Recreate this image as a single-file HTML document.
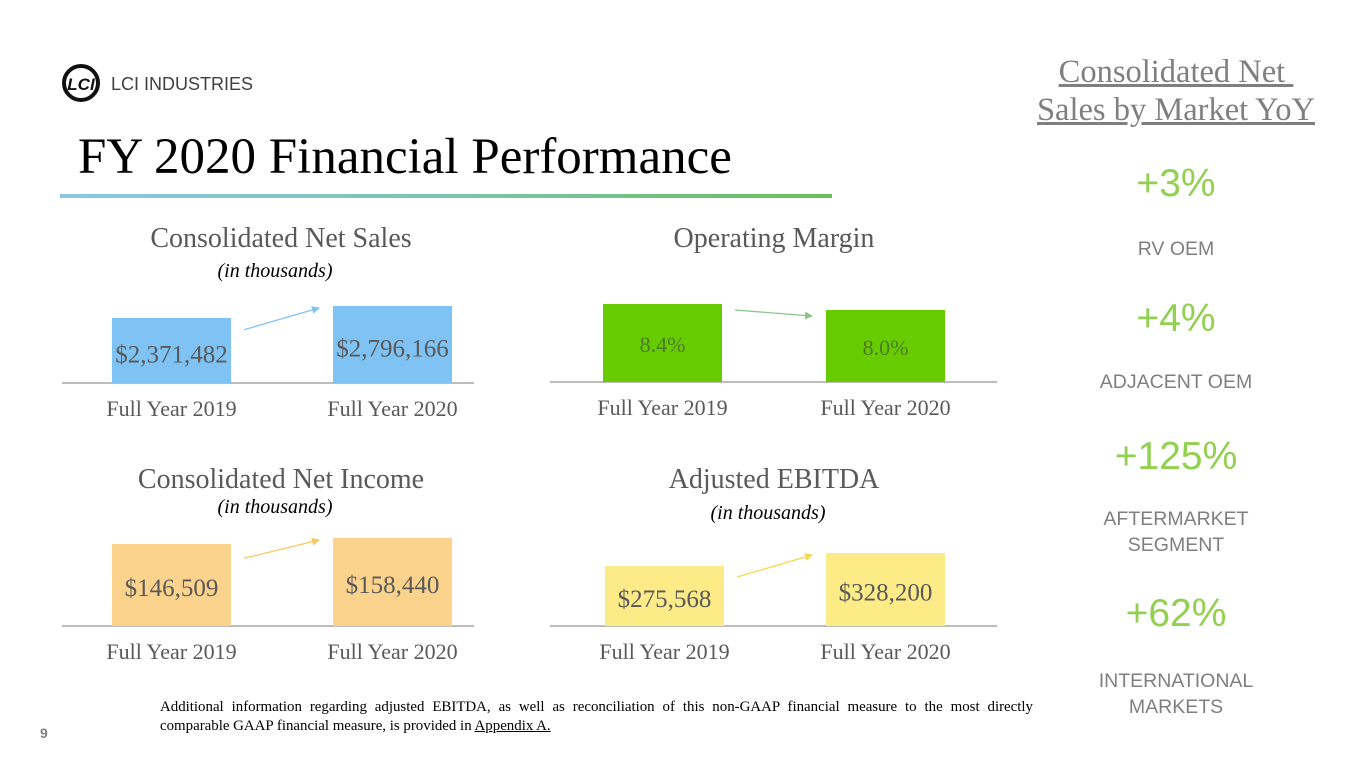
<!DOCTYPE html>
<html><head><meta charset="utf-8"><style>
body{margin:0;width:1365px;height:768px;background:#fff;position:relative;overflow:hidden;font-family:"Liberation Serif",serif}
.a{position:absolute}
.sans{font-family:"Liberation Sans",sans-serif}
.ct{position:absolute;font-size:28px;color:#595959;text-align:center;width:440px}
.sub{position:absolute;font-size:20px;font-style:italic;color:#000;text-align:center;width:300px}
.pct{position:absolute;width:300px;left:1026px;text-align:center;color:#92D050;font-size:39px;font-family:"Liberation Sans",sans-serif}
.lbl{position:absolute;width:300px;left:1026px;text-align:center;color:#7f7f7f;font-size:19.5px;font-family:"Liberation Sans",sans-serif;line-height:26px}
</style></head><body>
<svg class="a" style="left:60px;top:62px" width="42" height="42"><circle cx="21" cy="21" r="17" fill="none" stroke="#111" stroke-width="4"/><text x="21" y="28" text-anchor="middle" font-family="Liberation Sans" font-weight="bold" font-style="italic" font-size="17" fill="#111">LCI</text></svg>
<div class="a sans" style="left:111px;top:74px;font-size:18px;color:#404040">LCI INDUSTRIES</div>
<div class="a" style="left:78px;top:128px;font-size:51px;color:#000">FY 2020 Financial Performance</div>
<div class="a" style="left:60px;top:194px;width:772px;height:4px;background:linear-gradient(90deg,#8cc6e6,#7fc3b0,#6dbd5a)"></div>

<div class="ct" style="left:61px;top:223px">Consolidated Net Sales</div>
<div class="sub" style="left:125px;top:260px">(in thousands)</div>
<div class="ct" style="left:554px;top:223px">Operating Margin</div>
<div class="ct" style="left:61px;top:464px">Consolidated Net Income</div>
<div class="sub" style="left:125px;top:496px">(in thousands)</div>
<div class="ct" style="left:554px;top:464px">Adjusted EBITDA</div>
<div class="sub" style="left:618px;top:502px">(in thousands)</div>

<svg id="charts" class="a" style="left:0;top:0" width="1000" height="680"></svg>

<div class="a" style="left:996px;top:53px;width:360px;text-align:center;font-size:32.5px;color:#7f7f7f;text-decoration:underline;line-height:38px;white-space:pre">Consolidated Net 
Sales by Market YoY</div>
<div class="pct" style="top:162px">+3%</div>
<div class="lbl" style="top:236px">RV OEM</div>
<div class="pct" style="top:297px">+4%</div>
<div class="lbl" style="top:369px">ADJACENT OEM</div>
<div class="pct" style="top:435px">+125%</div>
<div class="lbl" style="top:506px">AFTERMARKET<br>SEGMENT</div>
<div class="pct" style="top:592px">+62%</div>
<div class="lbl" style="top:668px">INTERNATIONAL<br>MARKETS</div>

<div class="a" style="left:160px;top:698px;width:873px;font-size:14.9px;text-align:justify;text-align-last:left;line-height:19px;color:#000">Additional information regarding adjusted EBITDA, as well as reconciliation of this non-GAAP financial measure to the most directly comparable GAAP financial measure, is provided in <u>Appendix A.</u></div>
<div class="a sans" style="left:40px;top:725px;font-size:14px;color:#7f7f7f;font-weight:bold">9</div>

<script>
const categories=["Full Year 2019","Full Year 2020"];
const salesValues=[2371482,2796166];
const salesLabels=["$2,371,482","$2,796,166"];
const marginValues=[8.4,8.0];
const marginLabels=["8.4%","8.0%"];
const incomeValues=[146509,158440];
const incomeLabels=["$146,509","$158,440"];
const ebitdaValues=[275568,328200];
const ebitdaLabels=["$275,568","$328,200"];

const NS="http://www.w3.org/2000/svg";
const svg=document.getElementById('charts');
function mk(t,a){const e=document.createElementNS(NS,t);for(const k in a)e.setAttribute(k,a[k]);svg.appendChild(e);return e;}
const defs=mk('defs',{});
function chart(name,vals,labels,base,x0,x1,barX,v0,k,color,txtColor,arrowColor,labelDy,fs){
  const yScale=v=>base-(v-v0)*k;
  const line=mk('line',{x1:x0,x2:x1,y1:base,y2:base,stroke:'#a6a6a6','stroke-width':1.5});
  
  
  const tops=[];
  vals.forEach((v,i)=>{
    const y=yScale(v);tops.push(y);
    const r=mk('rect',{x:barX[i],y:y,width:119,height:base-y,fill:color});
    
    
    const t=mk('text',{x:barX[i]+59.5,y:(y+base)/2+11+labelDy,'text-anchor':'middle','font-size':fs,fill:txtColor,'font-family':'Liberation Serif'});
    t.textContent=labels[i];
    
    
    const c=mk('text',{x:barX[i]+59.5,y:base+33,'text-anchor':'middle','font-size':22,fill:'#595959','font-family':'Liberation Serif'});
    c.textContent=categories[i];
    
    
  });
  const ax1=barX[0]+132, ax2=barX[1]-14;
  const ya=tops[0]+(tops[0]<tops[1]?6:(base-tops[0])*0.15+2);
  const yb=tops[1]+(tops[0]<tops[1]?6:2);
  const m=mk('marker',{id:'m'+name,markerWidth:8,markerHeight:8,refX:7,refY:4,orient:'auto',markerUnits:'userSpaceOnUse'});
  defs.appendChild(m);
  const p=document.createElementNS(NS,'path');p.setAttribute('d','M0,0 L8,4 L0,8 z');p.setAttribute('fill',arrowColor);m.appendChild(p);
  const ar=mk('line',{x1:ax1,y1:ya,x2:ax2,y2:yb,stroke:arrowColor,'stroke-width':1.3,'marker-end':'url(#m'+name+')'});
  
  
}
chart('net-sales',salesValues,salesLabels,383,62,474,[112,333],2371482-65*424684/12,12/424684,'#7FC3F4','#595959','#7FC3F4',1,25);
chart('operating-margin',marginValues,marginLabels,382,550,997,[603,826],8.4-78/15,15,'#66CC00','#4d7a2a','#8cc68c',-2,22);
chart('net-income',incomeValues,incomeLabels,626,62,474,[112,333],146509-82*11931/6,6/11931,'#FCD38C','#595959','#F8C860',0,25);
chart('ebitda',ebitdaValues,ebitdaLabels,626,550,997,[605,826],275568-60*52632/13,13/52632,'#FDEB88','#595959','#F5D84A',0,25);
</script>
</body></html>
